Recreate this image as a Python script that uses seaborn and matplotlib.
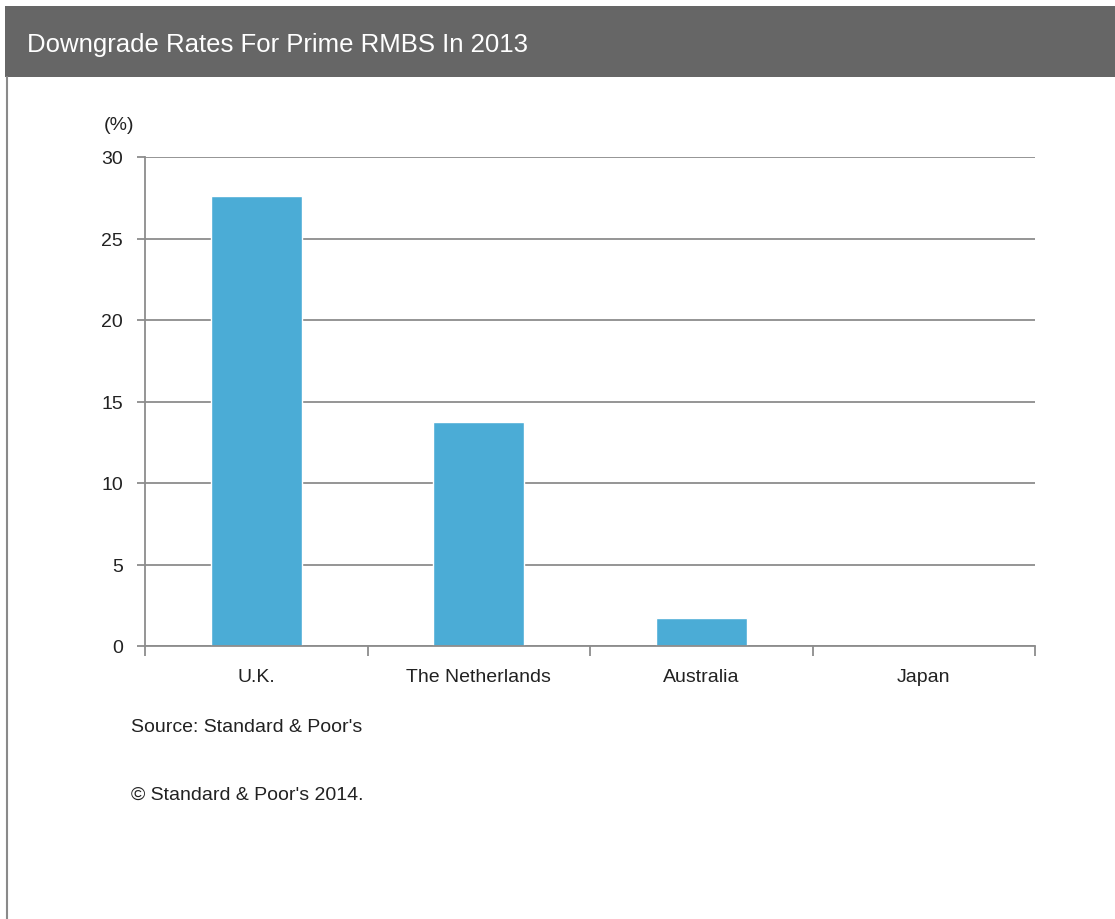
import matplotlib
matplotlib.use("Agg")
import matplotlib.pyplot as plt
from matplotlib.patches import Rectangle
from matplotlib.lines import Line2D
import seaborn as sns

# Data
countries = ["U.K.", "The Netherlands", "Australia", "Japan"]
downgrade_rates = [27.6, 13.75, 1.7, 0.0]
y_ticks = [0, 5, 10, 15, 20, 25, 30]

W, H = 1115, 920
sns.set_theme(style="white")
plt.rcParams["font.family"] = ["Liberation Sans", "DejaVu Sans"]

fig = plt.figure(figsize=(W / 100, H / 100), dpi=100)
fig.patch.set_facecolor("white")

# header bar and left frame line
fig.patches.append(Rectangle((5 / W, 1 - 78 / H), 1 - 5 / W, 71 / H,
                             transform=fig.transFigure, facecolor="#666666",
                             edgecolor="none", zorder=0))
fig.lines.append(Line2D([6.5 / W, 6.5 / W], [0, 1 - 78 / H], transform=fig.transFigure,
                        color="#8a8a8a", lw=1.5))
fig.text(27 / W, 1 - 45 / H, "Downgrade Rates For Prime RMBS In 2013",
         color="white", fontsize=18.5, va="center", ha="left")

ax = fig.add_axes([145 / W, (H - 647) / H, (1035 - 145) / W, (647 - 158) / H])
sns.barplot(x=countries, y=downgrade_rates, color="#4BACD6", width=0.41,
            saturation=1, ax=ax)

ax.set_xlim(-0.5, len(countries) - 0.5)
ax.set_ylim(0, 30)
ax.set_yticks(y_ticks)
ax.yaxis.grid(True, color="#8c8c8c", lw=1.3)
ax.set_axisbelow(True)
for s in ["top", "right"]:
    ax.spines[s].set_visible(False)
for s in ["left", "bottom"]:
    ax.spines[s].set_color("#8c8c8c")
    ax.spines[s].set_linewidth(1.3)

ax.set_xticks(range(len(countries)))
ax.set_xticklabels(countries)
ax.set_xticks([i - 0.5 for i in range(len(countries) + 1)], minor=True)
ax.tick_params(axis="x", which="major", length=0, pad=16, labelsize=14, colors="#222222")
ax.tick_params(axis="x", which="minor", length=7, width=1.3, color="#8c8c8c", bottom=True)
ax.tick_params(axis="y", length=6, width=1.3, color="#8c8c8c", left=True,
               labelsize=14, labelcolor="#222222", pad=10)
ax.set_xlabel("")
ax.set_ylabel("")

fig.text(104 / W, 1 - 126 / H, "(%)", fontsize=14, color="#222222", va="center")
fig.text(131 / W, 1 - 727 / H, "Source: Standard & Poor's", fontsize=14,
         color="#222222", va="center")
fig.text(131 / W, 1 - 795 / H, "\u00a9 Standard & Poor's 2014.", fontsize=14,
         color="#222222", va="center")

fig.savefig("out.png", dpi=100, facecolor="white")
